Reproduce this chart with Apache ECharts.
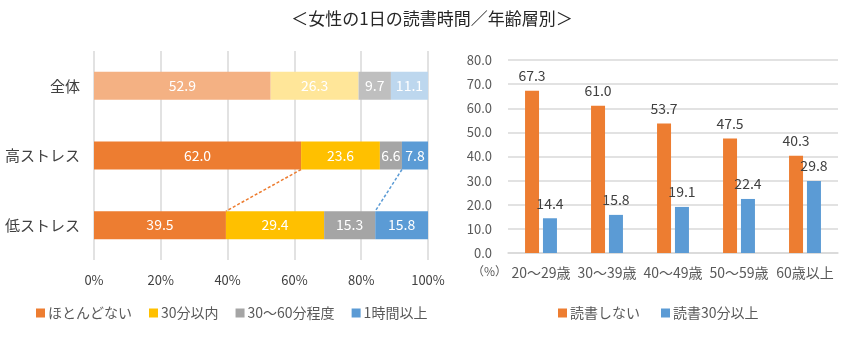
<!DOCTYPE html>
<html>
<head>
<meta charset="utf-8">
<script src="https://cdn.jsdelivr.net/npm/echarts@6/dist/echarts.min.js"></script>
<style>
  html, body { margin: 0; padding: 0; background: #fff; }
  #chart { width: 864px; height: 337px; }
</style>
</head>
<body>
<div id="chart"></div>
<script>
// Left panel: reading time share by stress group (100% stacked)
const stressGroups = ['全体', '高ストレス', '低ストレス'];
const timeBands = ['ほとんどない', '30分以内', '30〜60分程度', '1時間以上'];
const bandNone   = [52.9, 62.0, 39.5];
const band30     = [26.3, 23.6, 29.4];
const band30to60 = [9.7, 6.6, 15.3];
const band60plus = [11.1, 7.8, 15.8];
const pctTicks = [0, 20, 40, 60, 80, 100];

// Right panel: women by age group
const ageGroups = ['20〜29歳', '30〜39歳', '40〜49歳', '50〜59歳', '60歳以上'];
const ageSeriesNames = ['読書しない', '読書30分以上'];
const noReading = [67.3, 61.0, 53.7, 47.5, 40.3];
const reading30 = [14.4, 15.8, 19.1, 22.4, 29.8];

const FONT = "'Noto Sans CJK JP', 'Noto Sans', sans-serif";
const DARK = ['#ED7D31', '#FFC000', '#A5A5A5', '#5B9BD5'];
const LIGHT = ['#F4B183', '#FFE699', '#BFBFBF', '#BDD7EE'];
const BAR_W = 28;

const bandData = [bandNone, band30, band30to60, band60plus];

const stackSeries = timeBands.map((name, i) => ({
  name: name,
  type: 'bar',
  stack: 'share',
  xAxisIndex: 0,
  yAxisIndex: 0,
  barWidth: BAR_W,
  data: bandData[i].map((v, j) => j === 0
    ? { value: v, itemStyle: { color: LIGHT[i] } }
    : v),
  itemStyle: { color: DARK[i] },
  label: {
    show: true,
    position: 'inside',
    color: '#fff',
    fontSize: 14,
    fontFamily: FONT,
    formatter: p => p.value.toFixed(1)
  },
  emphasis: { disabled: true }
}));

// Dashed connectors between the high-stress and low-stress bars
const hiIdx = 1, loIdx = 2;
const hiBlueStart = bandNone[hiIdx] + band30[hiIdx] + band30to60[hiIdx];
const loBlueStart = bandNone[loIdx] + band30[loIdx] + band30to60[loIdx];
const connectors = [
  { value: [bandNone[hiIdx], hiIdx, bandNone[loIdx], loIdx], color: DARK[0] },
  { value: [hiBlueStart, hiIdx, loBlueStart, loIdx], color: DARK[3] }
];

const connectorSeries = {
  type: 'custom',
  xAxisIndex: 0,
  yAxisIndex: 0,
  silent: true,
  z: 5,
  data: connectors.map(c => ({ value: c.value, itemStyle: { color: c.color } })),
  renderItem: function (params, api) {
    const a = api.coord([api.value(0), api.value(1)]);
    const b = api.coord([api.value(2), api.value(3)]);
    const half = BAR_W / 2;
    return {
      type: 'line',
      shape: { x1: a[0], y1: a[1] + half, x2: b[0], y2: b[1] - half },
      style: {
        stroke: api.visual('color'),
        lineWidth: 1.5,
        lineDash: [3, 2]
      }
    };
  }
};

const ageColors = ['#ED7D31', '#5B9BD5'];
const ageSeries = [noReading, reading30].map((arr, i) => ({
  name: ageSeriesNames[i],
  type: 'bar',
  xAxisIndex: 1,
  yAxisIndex: 1,
  barWidth: 14,
  barGap: '28%',
  data: arr,
  itemStyle: { color: ageColors[i] },
  label: {
    show: true,
    position: 'top',
    distance: 8,
    color: '#404040',
    fontSize: 14,
    fontFamily: FONT,
    formatter: p => p.value.toFixed(1)
  },
  emphasis: { disabled: true }
}));

const chart = echarts.init(document.getElementById('chart'));
chart.setOption({
  animation: false,
  backgroundColor: '#fff',
  textStyle: { fontFamily: FONT },
  title: {
    text: '＜女性の1日の読書時間／年齢層別＞',
    left: 'center',
    top: 5,
    textStyle: { fontFamily: FONT, fontSize: 17, fontWeight: 'normal', color: '#262626' }
  },
  legend: [
    {
      data: timeBands,
      left: 31,
      top: 301,
      icon: 'rect',
      itemWidth: 9,
      itemHeight: 9,
      itemGap: 17,
      textStyle: { fontFamily: FONT, fontSize: 14, color: '#595959', padding: [0, 0, 0, -2] }
    },
    {
      data: ageSeriesNames,
      left: 553,
      top: 301,
      icon: 'rect',
      itemWidth: 9,
      itemHeight: 9,
      itemGap: 21,
      textStyle: { fontFamily: FONT, fontSize: 14, color: '#595959', padding: [0, 0, 0, -2] }
    }
  ],
  grid: [
    { left: 94, right: 436, top: 51, bottom: 77 },
    { left: 508, right: 26, top: 60, bottom: 84 }
  ],
  xAxis: [
    {
      gridIndex: 0,
      type: 'value',
      min: pctTicks[0],
      max: pctTicks[pctTicks.length - 1],
      interval: pctTicks[1] - pctTicks[0],
      axisLine: { show: false },
      axisTick: { show: false },
      splitLine: { show: true, lineStyle: { color: '#D9D9D9', width: 1.5 } },
      axisLabel: {
        margin: 14,
        color: '#404040',
        fontSize: 13,
        fontFamily: FONT,
        formatter: v => v + '%'
      }
    },
    {
      gridIndex: 1,
      type: 'category',
      data: ageGroups,
      axisLine: { show: true, lineStyle: { color: '#D9D9D9', width: 1.5 } },
      axisTick: { show: false },
      axisLabel: {
        margin: 13,
        color: '#595959',
        fontSize: 14,
        fontFamily: FONT,
        interval: 0
      }
    }
  ],
  yAxis: [
    {
      gridIndex: 0,
      type: 'category',
      data: stressGroups,
      inverse: true,
      axisLine: { show: false },
      axisTick: { show: false },
      axisLabel: {
        margin: 14,
        color: '#404040',
        fontSize: 15,
        fontFamily: FONT
      }
    },
    {
      gridIndex: 1,
      type: 'value',
      min: 0,
      max: 80,
      interval: 10,
      axisLine: { show: false },
      axisTick: { show: false },
      splitLine: { show: true, lineStyle: { color: '#D9D9D9', width: 1.5 } },
      axisLabel: {
        margin: 16,
        color: '#595959',
        fontSize: 13,
        fontFamily: FONT,
        formatter: v => v.toFixed(1)
      }
    }
  ],
  graphic: [
    {
      type: 'text',
      left: 472,
      top: 265,
      style: { text: '（%）', fontFamily: FONT, fontSize: 12, fill: '#595959' }
    }
  ],
  series: [...stackSeries, connectorSeries, ...ageSeries]
});
</script>
</body>
</html>
